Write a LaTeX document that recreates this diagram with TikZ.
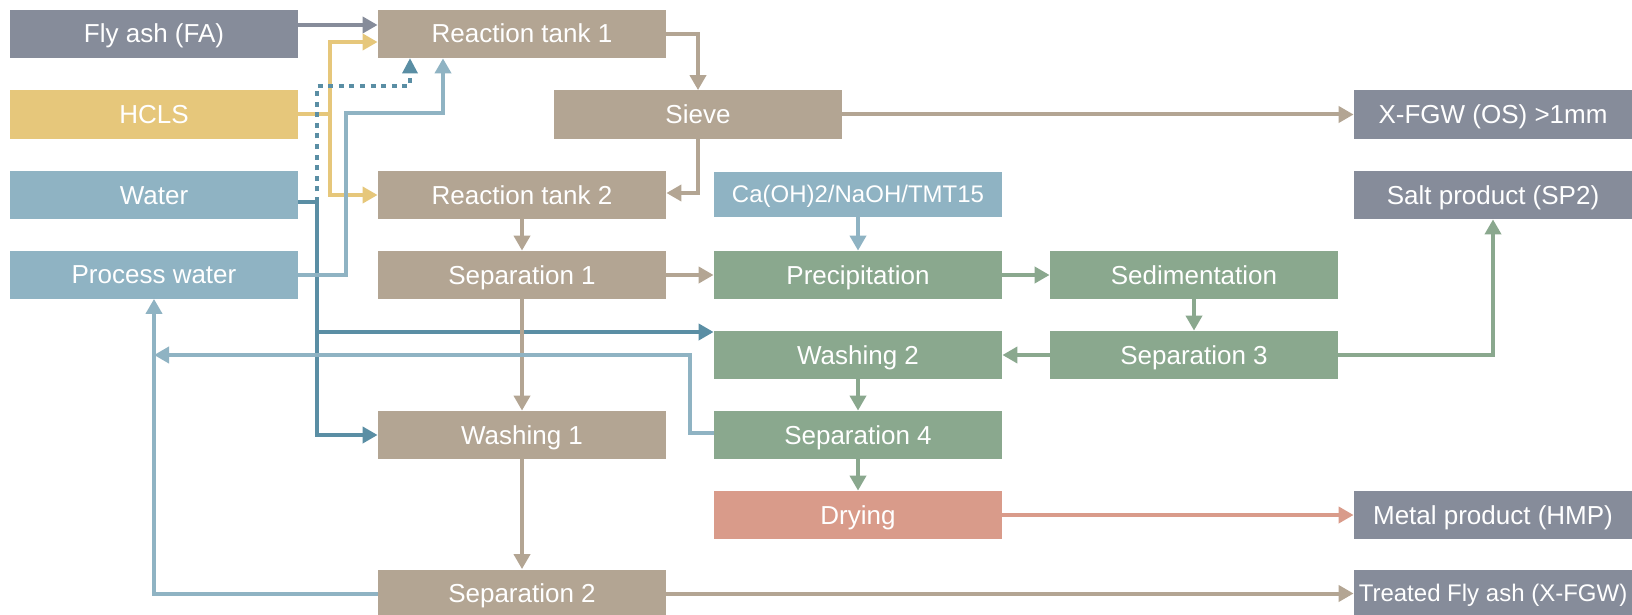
\documentclass[tikz,border=0pt]{standalone}
\usepackage{fontspec}
\setmainfont{Liberation Sans}
\usetikzlibrary{arrows.meta}
\definecolor{cgray}{HTML}{868C9A}
\definecolor{ctan}{HTML}{B3A593}
\definecolor{cyellow}{HTML}{E6C77B}
\definecolor{clblue}{HTML}{8FB3C3}
\definecolor{cteal}{HTML}{5A8EA4}
\definecolor{cgreen}{HTML}{8AA88E}
\definecolor{csalmon}{HTML}{D99B8A}
\begin{document}
\begin{tikzpicture}[x=0.5pt,y=-0.5pt,
  box/.style={rectangle, inner sep=0pt, minimum width=144pt, minimum height=24pt,
    text=white, font=\fontsize{13}{15}\selectfont, text height=11.8pt, text depth=2.8pt},
  rbox/.style={box, minimum width=139pt},
  small/.style={font=\fontsize{12}{14}\selectfont, text height=10.9pt, text depth=2.6pt},
  arr/.style={line width=2pt, -{Triangle[length=7.5pt,width=8pt]}},
  plain/.style={line width=2pt},
  tealarr/.style={arr, line width=2.3pt, draw=cteal},
  dotline/.style={line width=2.4pt, draw=cteal, dash pattern=on 2.5pt off 2.8pt}
]
\fill[white] (0,0) rectangle (1632,615);
\useasboundingbox (0,0) rectangle (1632,615);

% left inputs
\node[box,fill=cgray]   (fa)    at (154,34)    {Fly ash (FA)};
\node[box,fill=cyellow] (hcls)  at (154,114.5) {HCLS};
\node[box,fill=clblue]  (water) at (154,195)   {Water};
\node[box,fill=clblue]  (pw)    at (154,274.5) {Process water};

% column 2
\node[box,fill=ctan] (rt1)   at (522,34)    {Reaction tank 1};
\node[box,fill=ctan] (sieve) at (698,114.5) {Sieve};
\node[box,fill=ctan] (rt2)   at (522,195)   {Reaction tank 2};
\node[box,fill=ctan] (sep1)  at (522,275)   {Separation 1};
\node[box,fill=ctan] (wash1) at (522,435)   {Washing 1};
\node[box,fill=ctan] (sep2)  at (522,593.5) {Separation 2};

% column 3
\node[box,small,fill=clblue,minimum height=22.5pt] (chem) at (858,194.5) {Ca(OH)2/NaOH/TMT15};
\node[box,fill=cgreen]   (prec)   at (858,275) {Precipitation};
\node[box,fill=cgreen]   (wash2)  at (858,355) {Washing 2};
\node[box,fill=cgreen]   (sep4)   at (858,435) {Separation 4};
\node[box,fill=csalmon]  (drying) at (858,515) {Drying};

% column 4
\node[box,fill=cgreen] (sed)  at (1194,275) {Sedimentation};
\node[box,fill=cgreen] (sep3) at (1194,355) {Separation 3};

% outputs
\node[rbox,fill=cgray] (xfgw)    at (1493,114.5) {X-FGW (OS) >1mm};
\node[rbox,fill=cgray] (salt)    at (1493,195)   {Salt product (SP2)};
\node[rbox,fill=cgray] (metal)   at (1493,515)   {Metal product (HMP)};
\node[rbox,small,fill=cgray] (treated) at (1493,593.5) {Treated Fly ash (X-FGW)};

% junction coordinates
\coordinate (yj) at (330,114.5);
\coordinate (wj) at (317,202);
\coordinate (dc) at (410,86);
\coordinate (pc) at (346,113);
\coordinate (pd) at (443,113);
\coordinate (rc) at (690,355);

% fly ash
\draw[arr,cgray] (fa.east |- 0,25) -- (rt1.west |- 0,25);
% HCLS
\draw[plain,cyellow] (hcls.east) -- (yj);
\draw[arr,cyellow] (yj) |- (rt1.west |- 0,42);
\draw[arr,cyellow] (yj) |- (rt2.west);
% water (dotted)
\draw[dotline] (wj) |- (dc) -- ([yshift=-6pt]dc |- rt1.south);
\draw[draw=none,fill=cteal] (dc |- rt1.south) -- ++(-8,15) -- ++(16,0) -- cycle;
% water (solid)
\draw[tealarr] (water.east |- wj) -- (wj) |- (wash1.west);
\draw[tealarr] (wj |- 0,332) -- (wash2.west |- 0,332);
% process water
\draw[arr,clblue] (pw.east) -| (pc) -- (pd) -- (pd |- rt1.south);

% tan flow
\draw[arr,ctan] (rt1.east) -| (sieve.north);
\draw[arr,ctan] (sieve.south) |- (rt2.east |- 0,193);
\draw[arr,ctan] (sieve.east) -- (xfgw.west);
\draw[arr,ctan] (rt2.south) -- (sep1.north);
\draw[arr,ctan] (sep1.east) -- (prec.west);
\draw[arr,ctan] (sep1.south) -- (wash1.north);
\draw[arr,ctan] (wash1.south) -- (sep2.north);
\draw[arr,ctan] (sep2.east) -- (treated.west);

% chemical / green flow
\draw[arr,clblue] (chem.south) -- (prec.north);
\draw[arr,cgreen] (prec.east) -- (sed.west);
\draw[arr,cgreen] (sed.south) -- (sep3.north);
\draw[arr,cgreen] (sep3.west) -- (wash2.east);
\draw[arr,cgreen] (sep3.east) -| (salt.south);
\draw[arr,cgreen] (wash2.south) -- (sep4.north);
\draw[arr,cgreen] (sep4.south) -- (drying.north);
\draw[arr,csalmon] (drying.east) -- (metal.west);

% recycle water
\draw[arr,clblue] (sep4.west |- 0,433) -| (rc) -- (pw.south |- rc);
\draw[arr,clblue] (sep2.west) -| (pw.south);
\end{tikzpicture}
\end{document}
